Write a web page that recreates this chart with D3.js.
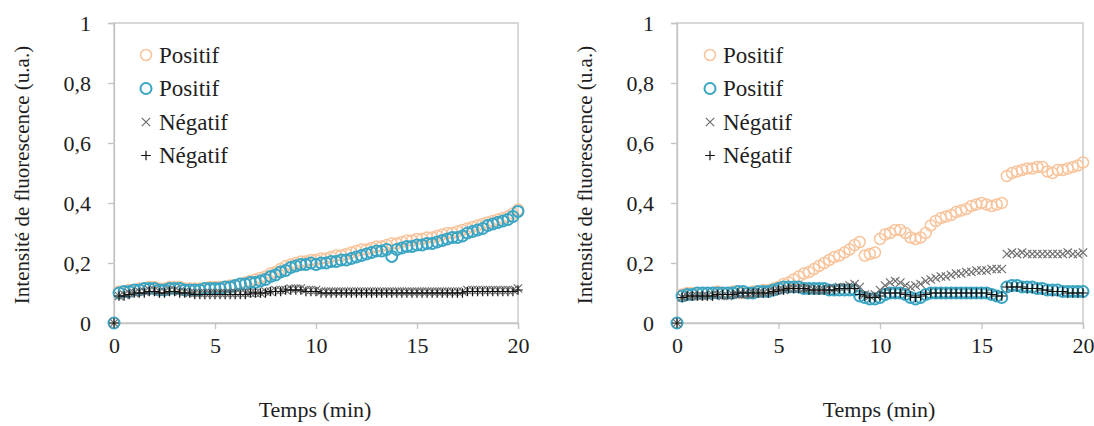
<!DOCTYPE html>
<html><head><meta charset="utf-8">
<script src="https://cdn.jsdelivr.net/npm/d3@7"></script>
<style>
html,body{margin:0;padding:0;background:#fff;}
svg{display:block;}
svg text{font-family:'Liberation Serif','Times New Roman',serif !important;}
</style></head>
<body><svg id="c" width="1094" height="426"></svg>
<script>
// Time axis: one reading every 0.25 min from 0 to 20 min (81 readings)
const times = d3.range(0, 81).map(i => i / 4);
const xTicks = [0, 5, 10, 15, 20];
const yTicks = [0, 0.2, 0.4, 0.6, 0.8, 1];
const legendLabels = ["Positif", "Positif", "Négatif", "Négatif"];
const xTitle = "Temps (min)";
const yTitle = "Intensité de fluorescence (u.a.)";

// Left panel
const leftPos1 = [0,
 0.105,0.105,0.11,0.11, 0.115,0.115,0.12,0.12, 0.115,0.115,0.12,0.12, 0.12,0.115,0.115,0.115, 0.115,0.115,0.12,0.12,
 0.12,0.12,0.125,0.125, 0.13,0.135,0.14,0.145,
 0.15,0.155,0.165,0.17, 0.18,0.19,0.195,0.2, 0.205,0.205,0.21,0.21,
 0.215,0.215,0.22,0.225, 0.225,0.23,0.235,0.24,
 0.245,0.245,0.25,0.255, 0.255,0.26,0.265,0.265,
 0.27,0.275,0.275,0.28, 0.28,0.285,0.285,0.29,
 0.295,0.3,0.3,0.305, 0.31,0.315,0.32,0.325,
 0.33,0.335,0.34,0.345, 0.35,0.355,0.365,0.378];
const leftPos2 = [0,
 0.1,0.105,0.105,0.11, 0.11,0.115,0.115,0.115, 0.11,0.11,0.115,0.115, 0.115,0.11,0.11,0.11, 0.11,0.115,0.115,0.115,
 0.115,0.12,0.12,0.125, 0.13,0.13,0.135,0.135,
 0.14,0.145,0.155,0.16, 0.17,0.175,0.185,0.19, 0.195,0.195,0.2,0.195,
 0.2,0.2,0.205,0.205, 0.21,0.21,0.215,0.22,
 0.225,0.23,0.235,0.24, 0.24,0.245,0.222,0.245,
 0.25,0.255,0.255,0.26, 0.26,0.265,0.265,0.27,
 0.275,0.28,0.285,0.285, 0.29,0.3,0.305,0.31,
 0.315,0.325,0.33,0.335, 0.34,0.345,0.355,0.372];
const leftNeg1 = [0,
 0.09,0.095,0.1,0.1, 0.105,0.105,0.11,0.11, 0.105,0.105,0.11,0.11, 0.105,0.105,0.1,0.1, 0.1,0.1,0.1,0.1,
 0.1,0.1,0.1,0.1, 0.1,0.1,0.1,0.1, 0.1,0.105,0.105,0.11, 0.11,0.11,0.115,0.115, 0.115,0.11,0.11,0.11,
 0.105,0.105,0.105,0.105, 0.105,0.105,0.105,0.105, 0.105,0.105,0.105,0.105, 0.105,0.105,0.105,0.105,
 0.105,0.105,0.105,0.105, 0.105,0.105,0.105,0.105, 0.105,0.105,0.105,0.105, 0.105,0.11,0.11,0.11,
 0.11,0.11,0.11,0.11, 0.11,0.11,0.11,0.115];
const leftNeg2 = [0,
 0.09,0.09,0.095,0.1, 0.1,0.1,0.105,0.105, 0.1,0.1,0.105,0.105, 0.1,0.1,0.1,0.095, 0.095,0.095,0.095,0.095,
 0.095,0.095,0.095,0.095, 0.095,0.095,0.1,0.1, 0.1,0.1,0.105,0.105, 0.105,0.11,0.11,0.11, 0.11,0.105,0.105,0.105,
 0.1,0.1,0.1,0.1, 0.1,0.1,0.1,0.1, 0.1,0.1,0.1,0.1, 0.1,0.1,0.1,0.1,
 0.1,0.1,0.1,0.1, 0.1,0.1,0.1,0.1, 0.1,0.1,0.1,0.1, 0.1,0.105,0.105,0.105,
 0.105,0.105,0.105,0.105, 0.105,0.105,0.105,0.11];

// Right panel
const rightPos1 = [0,
 0.095,0.1,0.1,0.1, 0.1,0.1,0.1,0.105, 0.1,0.1,0.105,0.105, 0.1,0.1,0.105,0.105, 0.11,0.11,0.115,0.12,
 0.13,0.135,0.145,0.155, 0.165,0.17,0.18,0.19,
 0.2,0.21,0.22,0.225, 0.235,0.245,0.26,0.27,
 0.225,0.23,0.235,0.28,
 0.295,0.3,0.31,0.31, 0.3,0.285,0.28,0.285,
 0.3,0.325,0.34,0.35, 0.355,0.36,0.37,0.375,
 0.38,0.39,0.395,0.4, 0.395,0.39,0.395,0.4,
 0.49,0.5,0.505,0.51, 0.515,0.515,0.52,0.52,
 0.505,0.5,0.51,0.51, 0.515,0.52,0.525,0.535];
const rightPos2 = [0,
 0.09,0.095,0.095,0.1, 0.1,0.1,0.1,0.1, 0.1,0.1,0.1,0.105, 0.105,0.1,0.1,0.105, 0.105,0.105,0.11,0.115,
 0.12,0.12,0.12,0.12, 0.115,0.115,0.115,0.115, 0.115,0.11,0.11,0.11, 0.11,0.11,0.11,0.09,
 0.085,0.08,0.08,0.085, 0.095,0.1,0.1,0.1, 0.095,0.085,0.08,0.085, 0.095,0.1,0.1,0.1,
 0.1,0.1,0.1,0.1, 0.1,0.1,0.1,0.1, 0.1,0.095,0.09,0.085,
 0.12,0.125,0.125,0.12, 0.12,0.12,0.115,0.115, 0.11,0.11,0.11,0.105, 0.105,0.105,0.105,0.105];
const rightNeg1 = [0,
 0.085,0.09,0.09,0.09, 0.09,0.09,0.095,0.095, 0.09,0.09,0.095,0.095, 0.095,0.095,0.1,0.1, 0.1,0.105,0.105,0.11,
 0.11,0.115,0.115,0.115, 0.115,0.115,0.11,0.11, 0.11,0.115,0.115,0.12, 0.12,0.125,0.13,0.12,
 0.095,0.09,0.095,0.11, 0.125,0.135,0.14,0.135, 0.125,0.12,0.125,0.13,
 0.14,0.145,0.15,0.155, 0.155,0.16,0.165,0.165, 0.17,0.17,0.175,0.175, 0.175,0.18,0.18,0.18,
 0.23,0.235,0.23,0.235, 0.23,0.23,0.23,0.23, 0.23,0.23,0.23,0.23, 0.235,0.23,0.23,0.235];
const rightNeg2 = [0,
 0.085,0.09,0.09,0.09, 0.09,0.09,0.09,0.095, 0.095,0.095,0.095,0.1, 0.1,0.1,0.1,0.1, 0.1,0.1,0.105,0.11,
 0.11,0.115,0.115,0.115, 0.115,0.11,0.11,0.11, 0.11,0.11,0.11,0.115, 0.115,0.115,0.115,0.095,
 0.09,0.085,0.085,0.09, 0.1,0.1,0.1,0.1, 0.095,0.09,0.085,0.09, 0.095,0.1,0.1,0.1,
 0.1,0.1,0.1,0.1, 0.1,0.1,0.1,0.1, 0.1,0.095,0.09,0.09,
 0.12,0.12,0.12,0.12, 0.115,0.115,0.115,0.11, 0.11,0.105,0.105,0.105, 0.1,0.1,0.1,0.1];

const panels = [
  {left: 114, right: 518, series: [leftPos1, leftPos2, leftNeg1, leftNeg2], yTitleX: 22, legendX: 146},
  {left: 677, right: 1083, series: [rightPos1, rightPos2, rightNeg1, rightNeg2], yTitleX: 585, legendX: 710}
];
const plotTop = 23, plotBottom = 323;
const FONT = "'Liberation Serif', 'Times New Roman', serif";
const styles = [
  {type: "circle", stroke: "#f8c49c", sw: 1.5},
  {type: "circle", stroke: "#3aa5c3", sw: 2},
  {type: "x", stroke: "#6e6e6e", sw: 1.2},
  {type: "plus", stroke: "#111", sw: 1.2}
];
const svg = d3.select("#c");
const frameColor = "#c4c4c4";
const textColor = "#1e1e1e";
const fmt = d => d === 0 ? "0" : d === 1 ? "1" : d3.format(".1f")(d).replace(".", ",");

function drawMarker(g, type, cx, cy, st) {
  if (type === "circle") {
    g.append("circle").attr("cx", cx).attr("cy", cy).attr("r", 5.5)
      .attr("fill", "none").attr("stroke", st.stroke).attr("stroke-width", st.sw);
  } else if (type === "x") {
    const s = 4.2;
    g.append("path").attr("d", `M${cx-s},${cy-s}L${cx+s},${cy+s}M${cx-s},${cy+s}L${cx+s},${cy-s}`)
      .attr("stroke", st.stroke).attr("stroke-width", st.sw).attr("fill", "none");
  } else {
    const s = 4.8;
    g.append("path").attr("d", `M${cx-s},${cy}L${cx+s},${cy}M${cx},${cy-s}L${cx},${cy+s}`)
      .attr("stroke", st.stroke).attr("stroke-width", st.sw).attr("fill", "none");
  }
}

panels.forEach(p => {
  const x = d3.scaleLinear().domain([0, 20]).range([p.left, p.right]);
  const y = d3.scaleLinear().domain([0, 1]).range([plotBottom, plotTop]);
  const g = svg.append("g");

  g.append("rect").attr("x", p.left).attr("y", plotTop).attr("width", p.right - p.left).attr("height", plotBottom - plotTop)
    .attr("fill", "none").attr("stroke", frameColor).attr("stroke-width", 1.3);

  const ya = g.append("g").attr("transform", `translate(${p.left},0)`)
    .call(d3.axisLeft(y).tickValues(yTicks).tickFormat(fmt).tickSize(6).tickPadding(17));
  ya.attr("font-family", null).attr("font-size", null);
  ya.select(".domain").attr("stroke", frameColor).attr("stroke-width", 1.3);
  ya.selectAll(".tick line").attr("stroke", frameColor).attr("stroke-width", 1.3);
  ya.selectAll("text").attr("fill", textColor).style("font-family", FONT).style("font-size", "22px");

  const xa = g.append("g").attr("transform", `translate(0,${plotBottom})`)
    .call(d3.axisBottom(x).tickValues(xTicks).tickSize(6).tickPadding(8));
  xa.attr("font-family", null).attr("font-size", null);
  xa.select(".domain").attr("stroke", frameColor).attr("stroke-width", 1.3);
  xa.selectAll(".tick line").attr("stroke", frameColor).attr("stroke-width", 1.3);
  xa.selectAll("text").attr("fill", textColor).style("font-family", FONT).style("font-size", "22px");

  g.append("text").attr("x", (p.left + p.right) / 2 - 1).attr("y", 417).attr("text-anchor", "middle")
    .style("font-family", FONT).attr("fill", textColor).style("font-size", "22px").text(xTitle);
  g.append("text").attr("transform", `translate(${p.yTitleX},${(plotTop + plotBottom) / 2 + 2}) rotate(-90)`)
    .attr("text-anchor", "middle").attr("dominant-baseline", "central")
    .style("font-family", FONT).attr("fill", textColor).style("font-size", "21px").text(yTitle);

  p.series.forEach((vals, si) => {
    const sg = g.append("g");
    vals.forEach((v, i) => drawMarker(sg, styles[si].type, x(times[i]), y(v), styles[si]));
  });

  legendLabels.forEach((lab, i) => {
    const cy = 55 + i * 33.5;
    const lg = g.append("g");
    drawMarker(lg, styles[i].type, p.legendX, cy, styles[i]);
    lg.append("text").attr("x", p.legendX + 13).attr("y", cy).attr("dominant-baseline", "central")
      .style("font-family", FONT).attr("fill", textColor).style("font-size", "23px").text(lab);
  });
});
</script></body></html>
